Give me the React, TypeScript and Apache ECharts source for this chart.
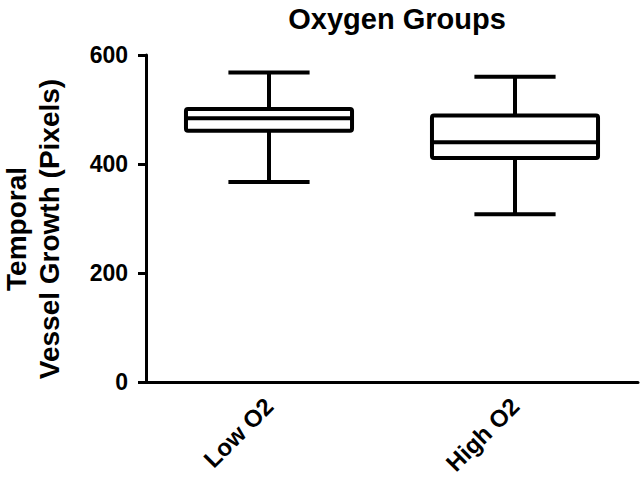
import React, { useEffect, useRef } from "react";
import * as echarts from "echarts";

const categories = ["Low O2", "High O2"];
// [min, Q1, median, Q3, max]
const lowO2 = [367, 461, 484, 501, 568];
const highO2 = [308, 411, 440, 489, 560];
const yTicks = [0, 200, 400, 600];

const FONT = "Liberation Sans, Arial, Helvetica, sans-serif";

export default function App() {
  const ref = useRef<HTMLDivElement>(null);
  useEffect(() => {
    if (!ref.current) return;
    const chart = echarts.init(ref.current, null, { renderer: "svg" });
    const boxes = [lowO2, highO2];
    const data = boxes.map((b, i) => [i, ...b]);
    chart.setOption({
      animation: false,
      backgroundColor: "#ffffff",
      title: {
        text: "Oxygen Groups",
        left: 392,
        top: -1,
        textAlign: "center",
        textStyle: { fontFamily: FONT, fontWeight: "bold", fontSize: 29, color: "#000" },
      },
      grid: { left: 146, right: 3, top: 55, bottom: 96, containLabel: false, outerBoundsMode: "none" },
      xAxis: {
        type: "category",
        data: categories,
        boundaryGap: true,
        axisLine: { lineStyle: { color: "#000", width: 3 } },
        axisTick: { alignWithLabel: true, length: 9, lineStyle: { color: "#000", width: 3 } },
        axisLabel: {
          rotate: 45,
          margin: 20,
          color: "#000",
          fontFamily: FONT,
          fontWeight: "bold",
          fontSize: 24,
        },
        splitLine: { show: false },
      },
      yAxis: {
        type: "value",
        min: yTicks[0],
        max: yTicks[yTicks.length - 1],
        interval: 200,
        axisLine: { show: true, lineStyle: { color: "#000", width: 3 } },
        axisTick: { show: true, length: 8, lineStyle: { color: "#000", width: 3 } },
        axisLabel: {
          margin: 18,
          color: "#000",
          fontFamily: FONT,
          fontWeight: "bold",
          fontSize: 23,
        },
        splitLine: { show: false },
      },
      graphic: [
        {
          type: "text",
          x: 33,
          y: 229,
          rotation: Math.PI / 2,
          style: {
            text: "Temporal\nVessel Growth (Pixels)",
            align: "center",
            verticalAlign: "middle",
            fontFamily: FONT,
            fontWeight: "bold",
            fontSize: 28,
            lineHeight: 33,
            fill: "#000",
          },
        },
      ],
      series: [
        {
          type: "custom",
          data,
          encode: { x: 0, y: [1, 2, 3, 4, 5] },
          renderItem: (params: any, api: any) => {
            const idx = api.value(0);
            const mn = api.coord([idx, api.value(1)]);
            const q1 = api.coord([idx, api.value(2)]);
            const md = api.coord([idx, api.value(3)]);
            const q3 = api.coord([idx, api.value(4)]);
            const mx = api.coord([idx, api.value(5)]);
            const band = api.size([1, 0])[0];
            const bw = band * 0.675;
            const cw = band * 0.33;
            const cx = mn[0];
            const st = { stroke: "#000", lineWidth: 4, fill: "none", lineJoin: "round", lineCap: "butt" };
            return {
              type: "group",
              children: [
                { type: "line", shape: { x1: cx, y1: q3[1], x2: cx, y2: mx[1] }, style: st },
                { type: "line", shape: { x1: cx, y1: q1[1], x2: cx, y2: mn[1] }, style: st },
                { type: "line", shape: { x1: cx - cw / 2, y1: mx[1], x2: cx + cw / 2, y2: mx[1] }, style: st },
                { type: "line", shape: { x1: cx - cw / 2, y1: mn[1], x2: cx + cw / 2, y2: mn[1] }, style: st },
                {
                  type: "rect",
                  shape: { x: cx - bw / 2, y: q3[1], width: bw, height: q1[1] - q3[1], r: 2 },
                  style: { ...st, fill: "#fff" },
                },
                { type: "line", shape: { x1: cx - bw / 2, y1: md[1], x2: cx + bw / 2, y2: md[1] }, style: st },
              ],
            };
          },
        },
      ],
    });
    return () => chart.dispose();
  }, []);
  return (
    <div
      ref={ref}
      style={{ position: "fixed", left: 0, top: 0, width: 641, height: 478, background: "#fff" }}
    />
  );
}
